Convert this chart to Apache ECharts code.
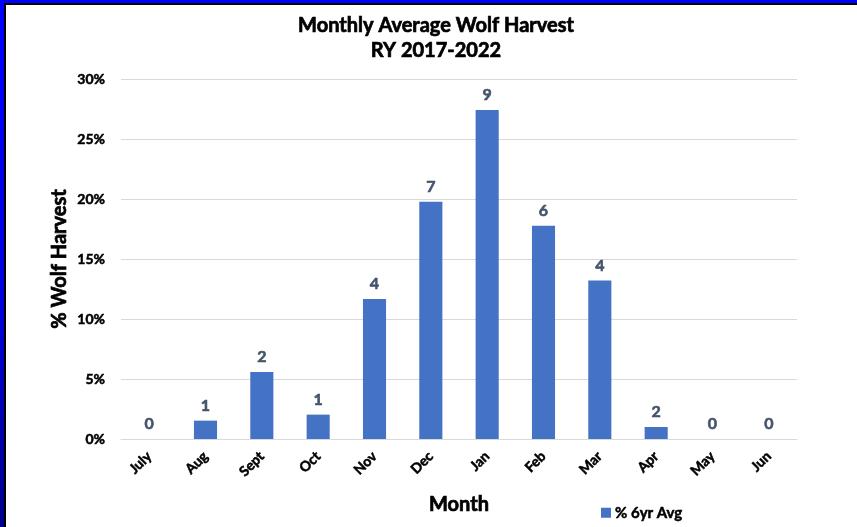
<!DOCTYPE html>
<html>
<head>
<meta charset="utf-8">
<script src="https://cdn.jsdelivr.net/npm/echarts@6/dist/echarts.min.js"></script>
<style>
html,body{margin:0;padding:0;background:#fff;}
#c{width:857px;height:527px;}
</style>
</head>
<body>
<div id="c"></div>
<script>
const months = ['July','Aug','Sept','Oct','Nov','Dec','Jan','Feb','Mar','Apr','May','Jun'];
const pctAvg = [0, 1.53, 5.58, 2.03, 11.67, 19.78, 27.42, 17.78, 13.2, 1.0, 0, 0];
const counts = [0, 1, 2, 1, 4, 7, 9, 6, 4, 2, 0, 0];
const seriesName = '% 6yr Avg';
const titleText = 'Monthly Average Wolf Harvest\nRY 2017-2022';

const FONT = 'Lato';
const heavy = (color, w) => ({textBorderColor: color, textBorderWidth: w});
const chart = echarts.init(document.getElementById('c'), null, {renderer: 'canvas'});
chart.setOption({
  animation: false,
  backgroundColor: '#ffffff',
  title: {
    text: titleText,
    left: 431,
    top: 8,
    textAlign: 'center',
    padding: [5, 5, 5, 5],
    textStyle: Object.assign({fontFamily: FONT, fontWeight: 'bold', fontSize: 20, color: '#000', lineHeight: 25}, heavy('#000', 0.7))
  },
  legend: {
    data: [seriesName],
    left: 596,
    top: 500,
    itemWidth: 10,
    itemHeight: 10,
    icon: 'rect',
    textStyle: Object.assign({fontFamily: FONT, fontWeight: 'bold', fontSize: 15, color: '#000', padding: [0,0,0,-1]}, heavy('#000', 0.5))
  },
  grid: {left: 121, right: 60, top: 79, bottom: 88, containLabel: false},
  xAxis: {
    type: 'category',
    data: months,
    name: 'Month',
    nameLocation: 'middle',
    nameGap: 56,
    nameTextStyle: Object.assign({fontFamily: FONT, fontWeight: 'bold', fontSize: 20, color: '#000'}, heavy('#000', 0.7)),
    axisLine: {lineStyle: {color: '#d9d9d9', width: 1}},
    axisTick: {show: false},
    axisLabel: Object.assign({rotate: 45, fontFamily: FONT, fontWeight: 'bold', fontSize: 14, color: '#000', margin: 15, interval: 0}, heavy('#000', 0.5))
  },
  yAxis: {
    type: 'value',
    min: 0,
    max: 30,
    interval: 5,
    name: '% Wolf Harvest',
    nameLocation: 'middle',
    nameGap: 51,
    nameMoveOverlap: false,
    nameTextStyle: Object.assign({fontFamily: FONT, fontWeight: 'bold', fontSize: 20, color: '#000'}, heavy('#000', 0.7)),
    axisLine: {show: false},
    axisTick: {show: false},
    splitLine: {lineStyle: {color: '#d9d9d9', width: 1}},
    axisLabel: Object.assign({formatter: '{value}%', fontFamily: FONT, fontWeight: 'bold', fontSize: 14, color: '#000', margin: 16}, heavy('#000', 0.5))
  },
  series: [{
    name: seriesName,
    type: 'bar',
    data: pctAvg,
    barWidth: '41%',
    itemStyle: {color: '#4472C4'},
    label: Object.assign({
      show: true,
      position: 'top',
      distance: 7,
      fontFamily: FONT,
      fontWeight: 'bold',
      fontSize: 16,
      color: '#44546A',
      formatter: p => String(counts[p.dataIndex])
    }, heavy('#44546A', 0.6))
  }],
  graphic: [
    {type: 'rect', left: 0, top: 0, shape: {width: 857, height: 3}, style: {fill: '#0000ff'}, silent: true},
    {type: 'rect', left: 0, top: 3, shape: {width: 857, height: 2}, style: {fill: '#000000'}, silent: true},
    {type: 'rect', left: 0, top: 0, shape: {width: 4, height: 527},
      style: {fill: new echarts.graphic.LinearGradient(0, 0, 0, 1, [{offset: 0, color: '#0000ff'}, {offset: 0.55, color: '#0000e0'}, {offset: 1, color: '#00008b'}])}, silent: true},
    {type: 'rect', left: 4, top: 3, shape: {width: 2, height: 524}, style: {fill: '#000000'}, silent: true}
  ]
});
</script>
</body>
</html>
